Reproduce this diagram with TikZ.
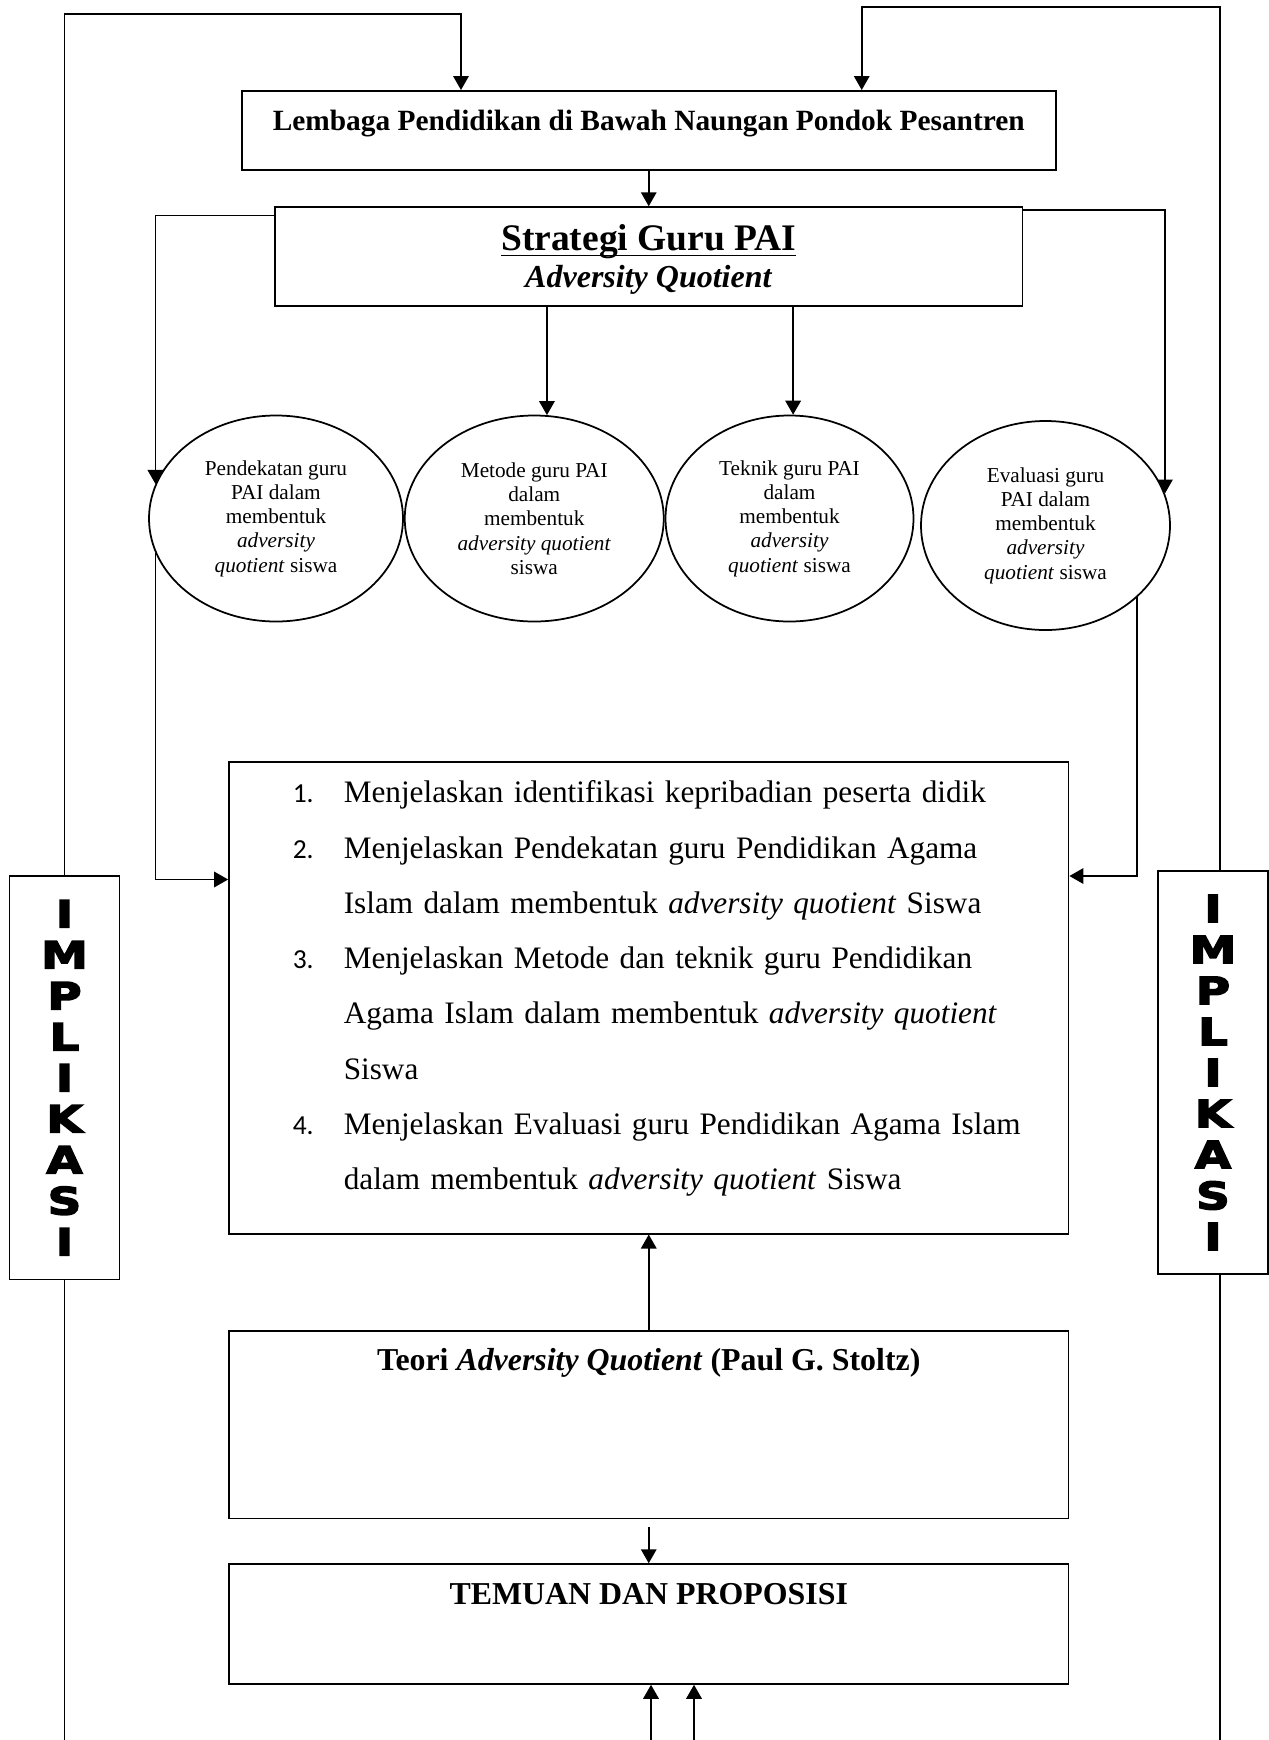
\documentclass[tikz,border=0pt]{standalone}
\usepackage{amsmath}
\usepackage{fontspec}
\setmainfont{Liberation Serif}
\newfontfamily\nomorfont{Carlito}
\newfontfamily\hurufimp[FakeBold=4, FakeStretch=1.25]{DejaVu Sans Bold}
\usepackage{tikz}
\usetikzlibrary{positioning, arrows.meta, shapes.geometric}

\newcommand{\butir}[2]{\makebox[20.4pt][l]{\nomorfont\fontsize{11}{13}\selectfont #1}\mbox{#2}}
\newcommand{\lanjut}[1]{\hspace*{20.4pt}\mbox{#1}}

\begin{document}
\begin{tikzpicture}[node distance=14pt, auto]
        \tikzstyle{box} = [rectangle, draw, line width=0.7pt, inner sep=0pt, align=center]
        \tikzstyle{topbox} = [box, minimum width=335.8pt, text height=16pt, font=\fontsize{12.75}{14}\selectfont\bfseries]
        \tikzstyle{oval} = [ellipse, draw, line width=0.7pt, minimum height=82.4pt, inner sep=0pt, align=center, font=\fontsize{8.5}{9.7}\selectfont]
        \tikzstyle{sidebar} = [rectangle, draw, line width=0.7pt, minimum width=44pt, minimum height=161.4pt, inner sep=0pt, align=center, font=\hurufimp\fontsize{15}{16.4}\selectfont]
        \tikzstyle{arrow} = [line width=0.7pt, -{Triangle[length=5.6pt, width=6.2pt]}]
        \tikzstyle{wire} = [line width=0.7pt]

        \useasboundingbox (0,0) rectangle (507.6pt,-696pt);

        \node [topbox, anchor=north, minimum width=325.6pt, text depth=15.6pt, font=\fontsize{11.75}{14}\selectfont\bfseries] (lembaga) at (259.5pt,-36pt) {Lembaga Pendidikan di Bawah Naungan Pondok Pesantren};
        \node [box, below=14.2pt of lembaga, minimum width=299pt, minimum height=39.4pt, font=\fontsize{12.8}{14.8}\selectfont\bfseries] (strategi) {{\fontsize{15}{14.8}\selectfont\rule{0pt}{12.8pt}\underline{\smash[b]{Strategi Guru PAI}}}\\ \textit{Adversity Quotient}};

        \node [oval, minimum width=101.6pt] (e1) at (110.4pt,-207.4pt) {Pendekatan guru\\PAI dalam\\membentuk\\\textit{adversity}\\\textit{quotient} siswa};
        \node [oval, right=0pt of e1, minimum width=103.6pt] (e2) {Metode guru PAI\\dalam\\membentuk\\\textit{adversity quotient}\\siswa};
        \node [oval, right=0pt of e2, minimum width=99.2pt] (e3) {Teknik guru PAI\\dalam\\membentuk\\\textit{adversity}\\\textit{quotient} siswa};
        \node [oval, right=2.3pt of e3, yshift=-2.8pt, minimum width=99.6pt, minimum height=83.6pt] (e4) {Evaluasi guru\\PAI dalam\\membentuk\\\textit{adversity}\\\textit{quotient} siswa};

        \node [box, below=181.9pt of strategi, text width=284.8pt, inner xsep=25.5pt, align=left, text height=16.3pt, text depth=172.3pt, font=\fontsize{12.5}{22.1}\selectfont] (tujuan) {\butir{1.}{Menjelaskan identifikasi kepribadian peserta didik}\\
\butir{2.}{Menjelaskan Pendekatan guru Pendidikan Agama}\\
\lanjut{Islam dalam membentuk \textit{adversity quotient} Siswa}\\
\butir{3.}{Menjelaskan Metode dan teknik guru Pendidikan}\\
\lanjut{Agama Islam dalam membentuk \textit{adversity quotient}}\\
\lanjut{Siswa}\\
\butir{4.}{Menjelaskan Evaluasi guru Pendidikan Agama Islam}\\
\lanjut{dalam membentuk \textit{adversity quotient} Siswa}};

        \node [topbox, below=38.2pt of tujuan, text depth=59pt] (teori) {Teori \textit{Adversity Quotient} (Paul G. Stoltz)};
        \node [topbox, below=17.6pt of teori, text depth=31.9pt] (temuan) {TEMUAN DAN PROPOSISI};

        \node [sidebar] (impL) at (25.8pt,-431.1pt) {I\\M\\P\\L\\I\\K\\A\\S\\I};
        \node [sidebar] (impR) at (485.2pt,-429pt) {I\\M\\P\\L\\I\\K\\A\\S\\I};

        \coordinate (kaki1) at (260.4pt,-696pt);
        \coordinate (kaki2) at (277.6pt,-696pt);

        \draw [arrow] (impL.north) -- ++(0,344.5pt) -| ([xshift=-75.1pt]lembaga.north);
        \draw [arrow] ([xshift=2.7pt]impR.north) -- ++(0,345.3pt) -| ([xshift=85.2pt]lembaga.north);
        \draw [wire] (impL.south) -- ++(0,-184.2pt);
        \draw [wire] ([xshift=2.7pt]impR.south) -- ++(0,-186.4pt);

        \draw [arrow] (lembaga) -- (strategi);
        \draw [arrow] ([yshift=-3.7pt]strategi.north west) -| (e1.164);
        \draw [arrow] ([yshift=-1.6pt]strategi.north east) -| (e4.15.5);
        \draw [arrow] (e2.83 |- strategi.south) -- (e2.83);
        \draw [arrow] (e3.88 |- strategi.south) -- (e3.88);
        \draw [arrow] (e1.196) |- ([yshift=-47.3pt]tujuan.north west);
        \draw [arrow] (e4.322) |- ([yshift=-45.9pt]tujuan.north east);
        \draw [arrow] (teori) -- (tujuan);
        \draw [arrow, shorten <=3.2pt] (teori) -- (temuan);
        \draw [arrow] (kaki1) -- (kaki1 |- temuan.south);
        \draw [arrow] (kaki2) -- (kaki2 |- temuan.south);
    \end{tikzpicture}
\end{document}
